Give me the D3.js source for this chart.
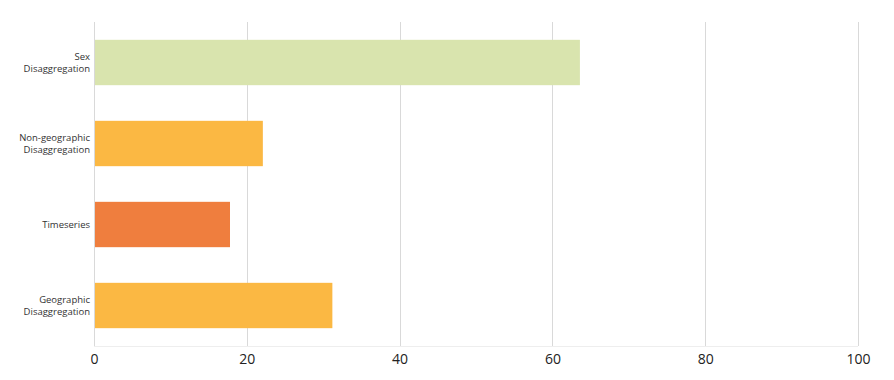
<!DOCTYPE html>
<html>
<head>
<meta charset="utf-8">
<script src="https://cdn.jsdelivr.net/npm/d3@7"></script>
<style>
  body { margin: 0; background: #fff; }
  svg { font-family: "Open Sans", "Noto Sans", sans-serif; }
</style>
</head>
<body>
<svg id="chart" width="894" height="380"></svg>
<script>
// data
const categories = [
  ['Sex', 'Disaggregation'],
  ['Non-geographic', 'Disaggregation'],
  ['Timeseries'],
  ['Geographic', 'Disaggregation']
];
const values = [63.6, 22.1, 17.8, 31.2];
const barColors = ['#d9e4ae', '#fbb843', '#ef7e3e', '#fbb843'];
const xTicks = [0, 20, 40, 60, 80, 100];

const svg = d3.select('#chart');
const margin = { top: 22, right: 36, bottom: 34, left: 94 };
const width = 894 - margin.left - margin.right;
const height = 380 - margin.top - margin.bottom;

const g = svg.append('g').attr('transform', `translate(${margin.left},${margin.top})`);

const x = d3.scaleLinear().domain([0, 100]).range([0, width]);
const y = d3.scaleBand()
  .domain(d3.range(categories.length))
  .range([0, height])
  .paddingInner(0.44)
  .paddingOuter(0.22);

// gridlines
g.selectAll('.grid')
  .data(xTicks)
  .join('line')
  .attr('x1', d => Math.round(x(d)) + 0.5)
  .attr('x2', d => Math.round(x(d)) + 0.5)
  .attr('y1', 0)
  .attr('y2', height)
  .attr('stroke', '#d9d9d9')
  .attr('stroke-width', 1);

// bottom axis line
g.append('line')
  .attr('x1', 0).attr('x2', width)
  .attr('y1', height + 0.5).attr('y2', height + 0.5)
  .attr('stroke', '#eeeeee');

// bars
g.selectAll('.bar')
  .data(values)
  .join('rect')
  .attr('x', 1)
  .attr('y', (d, i) => y(i))
  .attr('width', d => x(d) - 1)
  .attr('height', y.bandwidth())
  .attr('fill', (d, i) => barColors[i]);

// x axis
const xAxis = g.append('g')
  .attr('transform', `translate(0,${height})`)
  .call(d3.axisBottom(x).tickValues(xTicks).tickSize(0).tickPadding(8));
xAxis.select('.domain').remove();
xAxis.selectAll('text')
  .attr('font-size', 14)
  .attr('font-family', '"Open Sans", "Noto Sans", sans-serif')
  .attr('fill', '#222');

// category labels
const labels = g.selectAll('.cat')
  .data(categories)
  .join('text')
  .attr('text-anchor', 'end')
  .attr('font-size', 9.5)
  .attr('fill', '#333')
  .attr('transform', (d, i) => `translate(-4,${y(i) + y.bandwidth() / 2})`);

labels.each(function(lines) {
  const t = d3.select(this);
  const lh = 12;
  const start = -(lines.length - 1) * lh / 2;
  lines.forEach((line, k) => {
    t.append('tspan')
      .attr('x', 0)
      .attr('y', start + k * lh)
      .attr('dy', '0.35em')
      .text(line);
  });
});
</script>
</body>
</html>
